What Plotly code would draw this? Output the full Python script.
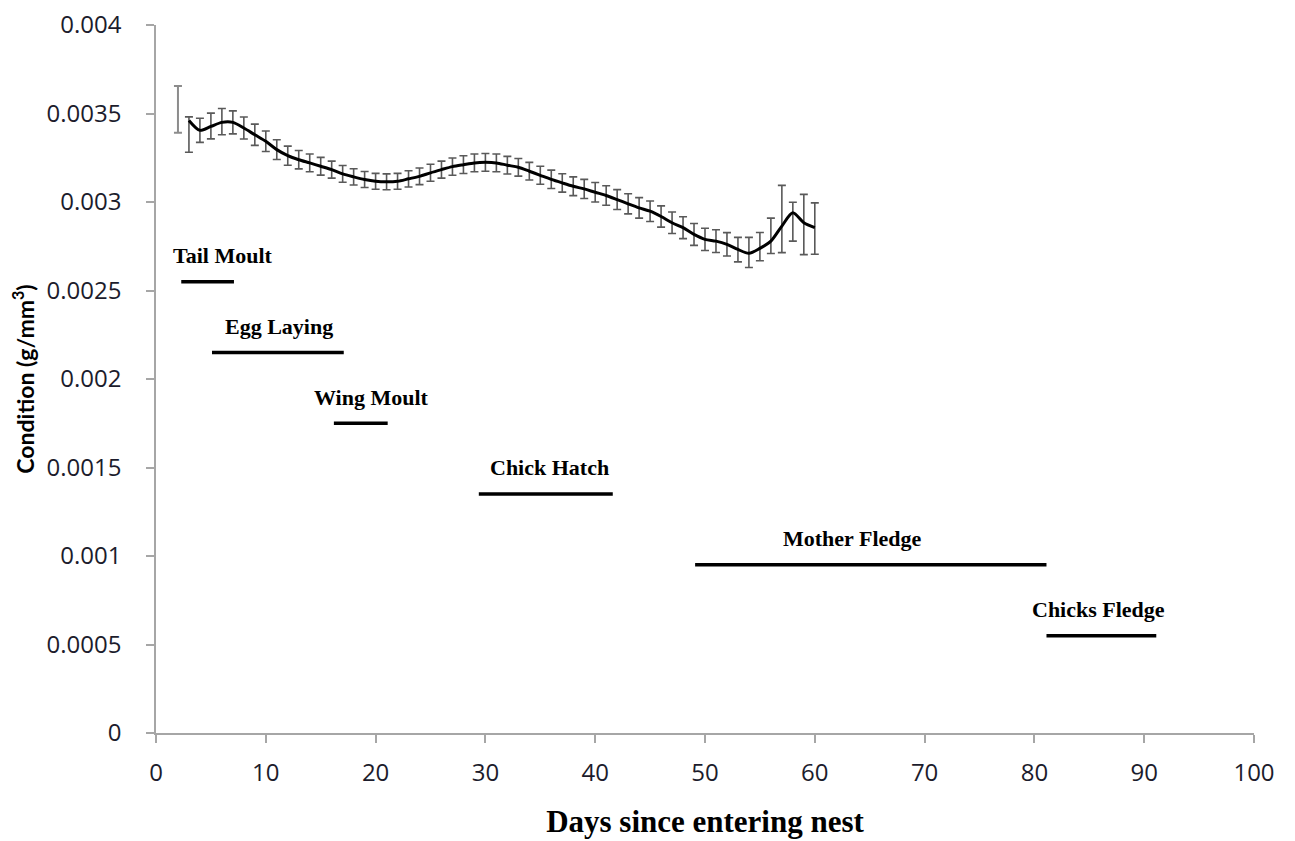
import plotly.graph_objects as go

# ---- data ----
days = list(range(3, 61))
condition = [0.003461, 0.003405, 0.003427, 0.003450, 0.003450, 0.003418, 0.003380, 0.003343,
             0.003296, 0.003262, 0.003239, 0.003221, 0.003202, 0.003183, 0.003159, 0.003142,
             0.003127, 0.003117, 0.003114, 0.003117, 0.003131, 0.003145, 0.003165, 0.003183,
             0.003200, 0.003211, 0.003221, 0.003224, 0.003221, 0.003208, 0.003196, 0.003174,
             0.003151, 0.003128, 0.003108, 0.003089, 0.003074, 0.003055, 0.003037, 0.003014,
             0.002990, 0.002967, 0.002948, 0.002918, 0.002883, 0.002855, 0.002817, 0.002789,
             0.002779, 0.002761, 0.002732, 0.002710, 0.002738, 0.002779, 0.002864, 0.002939,
             0.002883, 0.002855]
err_up = [0.000020, 0.000068, 0.000075, 0.000078, 0.000065, 0.000062, 0.000060, 0.000058,
          0.000056, 0.000054, 0.000052, 0.000050, 0.000050, 0.000048, 0.000047, 0.000046,
          0.000045, 0.000045, 0.000045, 0.000045, 0.000046, 0.000047, 0.000048, 0.000048,
          0.000049, 0.000050, 0.000050, 0.000050, 0.000050, 0.000050, 0.000050, 0.000050,
          0.000051, 0.000052, 0.000052, 0.000053, 0.000054, 0.000055, 0.000055, 0.000056,
          0.000057, 0.000058, 0.000058, 0.000060, 0.000061, 0.000062, 0.000062, 0.000063,
          0.000064, 0.000066, 0.000068, 0.000090, 0.000090, 0.000130, 0.000230, 0.000060,
          0.000160, 0.000140]
err_down = [0.000180, 0.000068, 0.000070, 0.000070, 0.000065, 0.000062, 0.000060, 0.000058,
            0.000056, 0.000054, 0.000052, 0.000050, 0.000050, 0.000048, 0.000047, 0.000046,
            0.000045, 0.000045, 0.000045, 0.000045, 0.000046, 0.000047, 0.000048, 0.000048,
            0.000049, 0.000050, 0.000050, 0.000050, 0.000050, 0.000050, 0.000050, 0.000050,
            0.000051, 0.000052, 0.000052, 0.000053, 0.000054, 0.000055, 0.000055, 0.000056,
            0.000057, 0.000058, 0.000058, 0.000060, 0.000061, 0.000062, 0.000062, 0.000063,
            0.000064, 0.000066, 0.000070, 0.000080, 0.000070, 0.000070, 0.000150, 0.000160,
            0.000180, 0.000150]

first_day = [2]
first_value = [0.003524]
first_err = [0.000132]

stages = ["Tail Moult", "Egg Laying", "Wing Moult", "Chick Hatch", "Mother Fledge", "Chicks Fledge"]
stage_start = [2.3, 5.1, 16.2, 29.4, 49.1, 81.1]
stage_end = [7.1, 17.1, 21.1, 41.6, 81.1, 91.1]
stage_level = [0.00255, 0.00215, 0.00175, 0.00135, 0.00095, 0.00055]
label_x = [6.1, 11.2, 19.6, 35.8, 63.4, 85.8]
label_offset = 0.000148

x_ticks = list(range(0, 101, 10))
y_ticks = [0, 0.0005, 0.001, 0.0015, 0.002, 0.0025, 0.003, 0.0035, 0.004]
y_tick_text = ["0", "0.0005", "0.001", "0.0015", "0.002", "0.0025", "0.003", "0.0035", "0.004"]

fig = go.Figure()

# standalone first error bar
fig.add_trace(go.Scatter(
    x=first_day, y=first_value, mode="markers",
    marker=dict(size=1, color="rgba(0,0,0,0)"),
    error_y=dict(type="data", array=first_err, color="#8c8c8c", thickness=2, width=4),
    showlegend=False, hoverinfo="skip"))

# main series
fig.add_trace(go.Scatter(
    x=days, y=condition, mode="lines",
    line=dict(color="black", width=3, shape="spline", smoothing=0.8),
    error_y=dict(type="data", symmetric=False, array=err_up, arrayminus=err_down,
                 color="#595959", thickness=1.6, width=4),
    showlegend=False))

# stage bars
for s, e, lv in zip(stage_start, stage_end, stage_level):
    fig.add_trace(go.Scatter(x=[s, e], y=[lv, lv], mode="lines",
                             line=dict(color="black", width=3.5),
                             showlegend=False, hoverinfo="skip"))

for name, lx, lv in zip(stages, label_x, stage_level):
    fig.add_annotation(x=lx, y=lv + label_offset, text="<b>" + name + "</b>",
                       showarrow=False, xanchor="center", yanchor="middle",
                       font=dict(family="Liberation Serif", size=22, color="black"))

axis_font = dict(family="Open Sans", size=24, color="#1c1c2c")

fig.update_layout(
    width=1295, height=841,
    margin=dict(l=148, r=49, t=17, b=116),
    paper_bgcolor="white", plot_bgcolor="white",
    xaxis=dict(range=[0, 100], tickvals=x_ticks, showgrid=False, zeroline=False,
               showline=True, linecolor="#a6a6a6", linewidth=1.5, automargin=False,
               ticks="outside", ticklen=8, tickcolor="#a6a6a6", tickwidth=1.5,
               tickfont=axis_font, ticklabelstandoff=9, ticklabeloverflow="allow",
               title=dict(text="<b>Days since entering nest</b>", standoff=24,
                          font=dict(family="Liberation Serif", size=31, color="black"))),
    yaxis=dict(range=[0, 0.0040001], tickvals=y_ticks, ticktext=y_tick_text, showgrid=False,
               zeroline=False, showline=True, linecolor="#a6a6a6", linewidth=1.5,
               automargin=False, ticklabeloverflow="allow",
               ticks="outside", ticklen=8, tickcolor="#a6a6a6", tickwidth=1.5,
               tickfont=axis_font, ticklabelstandoff=20,
               title=dict(text="<b>Condition (g/mm<sup>3</sup>)</b>", standoff=6,
                          font=dict(family="Lato", size=23, color="black"))),
)

fig.write_html("out.html")
